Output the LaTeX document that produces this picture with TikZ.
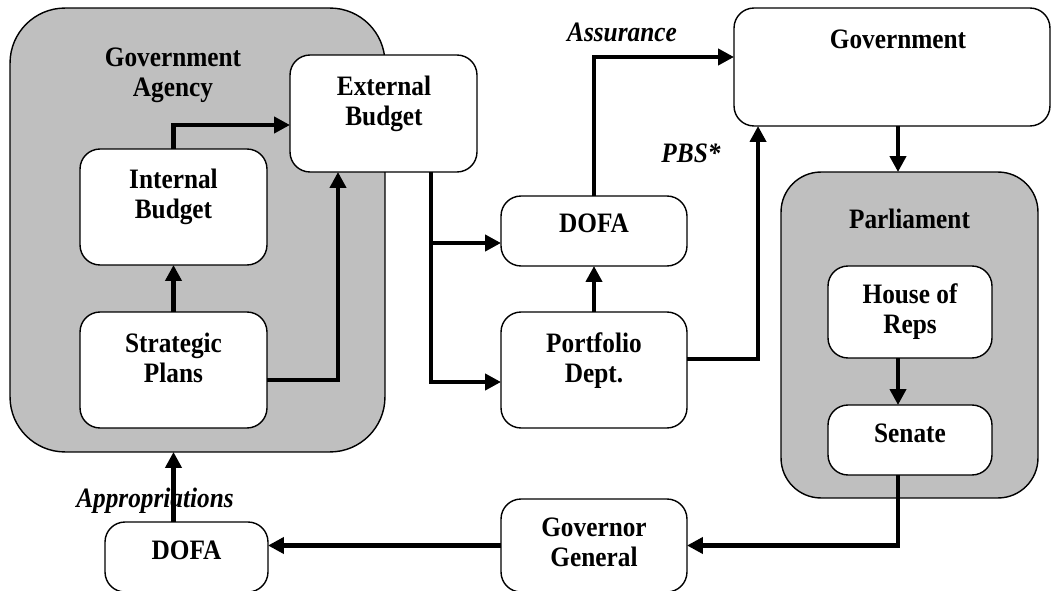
\documentclass[tikz,border=0pt]{standalone}
\usepackage{fontspec}
\setmainfont{Liberation Serif}[FakeStretch=0.9]
\usetikzlibrary{arrows.meta,calc}
\tikzstyle{grp}=[draw=black,thick,fill=black!25,rounded corners=1.1cm,inner sep=0pt,outer sep=0pt]
\tikzstyle{bx}=[draw=black,thick,fill=white,rounded corners=0.4cm,inner sep=0pt,outer sep=0pt]
\tikzstyle{txt}=[align=center,font=\fontsize{16}{17}\selectfont\bfseries,inner sep=0pt]
\tikzstyle{lab}=[font=\fontsize{16}{17}\selectfont\bfseries\itshape,inner sep=0pt]
\tikzstyle{conn}=[line width=2.3pt,-{Triangle[length=9pt,width=9pt]}]

\begin{document}
\begin{tikzpicture}[x=0.02cm,y=-0.02cm]
\useasboundingbox (0,0) rectangle (1052,591);
% groups
\node[grp,minimum width=7.5cm,minimum height=8.88cm] (agency) at (197.5,230) {};
\node[grp,rounded corners=0.8cm,minimum width=5.14cm,minimum height=6.52cm] (parl) at (909.5,335) {};
% boxes
\node[bx,minimum width=3.74cm,minimum height=2.34cm] (extb) at (383.5,113.5) {};
\node[bx,minimum width=3.74cm,minimum height=2.32cm] (intb) at (173.5,207) {};
\node[bx,minimum width=3.74cm,minimum height=2.32cm] (strat) at (173.5,370) {};
\node[bx,minimum width=3.72cm,minimum height=1.4cm] (dofa) at (594,231) {};
\node[bx,minimum width=3.72cm,minimum height=2.32cm] (port) at (594,370) {};
\node[bx,minimum width=6.32cm,minimum height=2.36cm] (gov) at (892,67) {};
\node[bx,minimum width=3.28cm,minimum height=1.84cm] (house) at (910,312) {};
\node[bx,minimum width=3.28cm,minimum height=1.4cm] (senate) at (910,440) {};
\node[bx,minimum width=3.72cm,minimum height=1.86cm] (gg) at (594,545.5) {};
\node[bx,minimum width=3.26cm,minimum height=1.4cm] (approp) at (186.5,557) {};
% texts
\node[txt] (agencyt) at (173,75.5) {Government\\Agency};
\node[txt] (extbt) at (384,103.5) {External\\Budget};
\node[txt] (intbt) at (173.5,196.5) {Internal\\Budget};
\node[txt] (stratt) at (173.5,357.5) {Strategic\\Plans};
\node[txt] (dofat) at (594,223.5) {DOFA};
\node[txt] (portt) at (594,360.5) {Portfolio\\Dept.};
\node[txt] (govt) at (898,39.5) {Government};
\node[txt] (parlt) at (909.5,218.5) {Parliament};
\node[txt] (houset) at (910,311.5) {House of\\Reps};
\node[txt] (senatet) at (910,433.5) {Senate};
\node[txt] (ggt) at (594,542.5) {Governor\\General};
\node[txt] (appropt) at (186.5,550.5) {DOFA};
% labels
\node[lab] (assur) at (622,32.5) {Assurance};
\node[lab] (pbs) at (691,153.5) {PBS*};
\node[lab] (appropl) at (155,500.5) {Appropriations};
% connectors
\coordinate (spine) at (898,0);
\coordinate (split) at (431,243);
\draw[conn] (intb.north) |- ($(extb.west)+(0,11.5)$);
\draw[conn] (strat.north) -- (intb.south);
\draw[conn] ($(strat.east)+(0,10)$) -| ($(extb.south)+(-45.5,0)$);
\draw[conn] ($(extb.south)+(47.5,0)$) |- ($(port.west)+(0,12)$);
\draw[conn] (split) -- (split -| dofa.west);
\draw[conn] (port.north) -- (dofa.south);
\draw[conn] (dofa.north) |- ($(gov.west)+(0,-10)$);
\draw[conn] ($(port.east)+(0,-11)$) -| ($(gov.south west)+(24,0)$);
\draw[conn] (spine |- gov.south) -- (spine |- parl.north);
\draw[conn] (spine |- house.south) -- (spine |- senate.north);
\draw[conn] (spine |- senate.south) |- (gg.east);
\draw[conn] (gg.west) -- (gg.west -| approp.east);
\draw[conn] (strat.south |- approp.north) -- (strat.south |- agency.south);
\end{tikzpicture}
\end{document}
